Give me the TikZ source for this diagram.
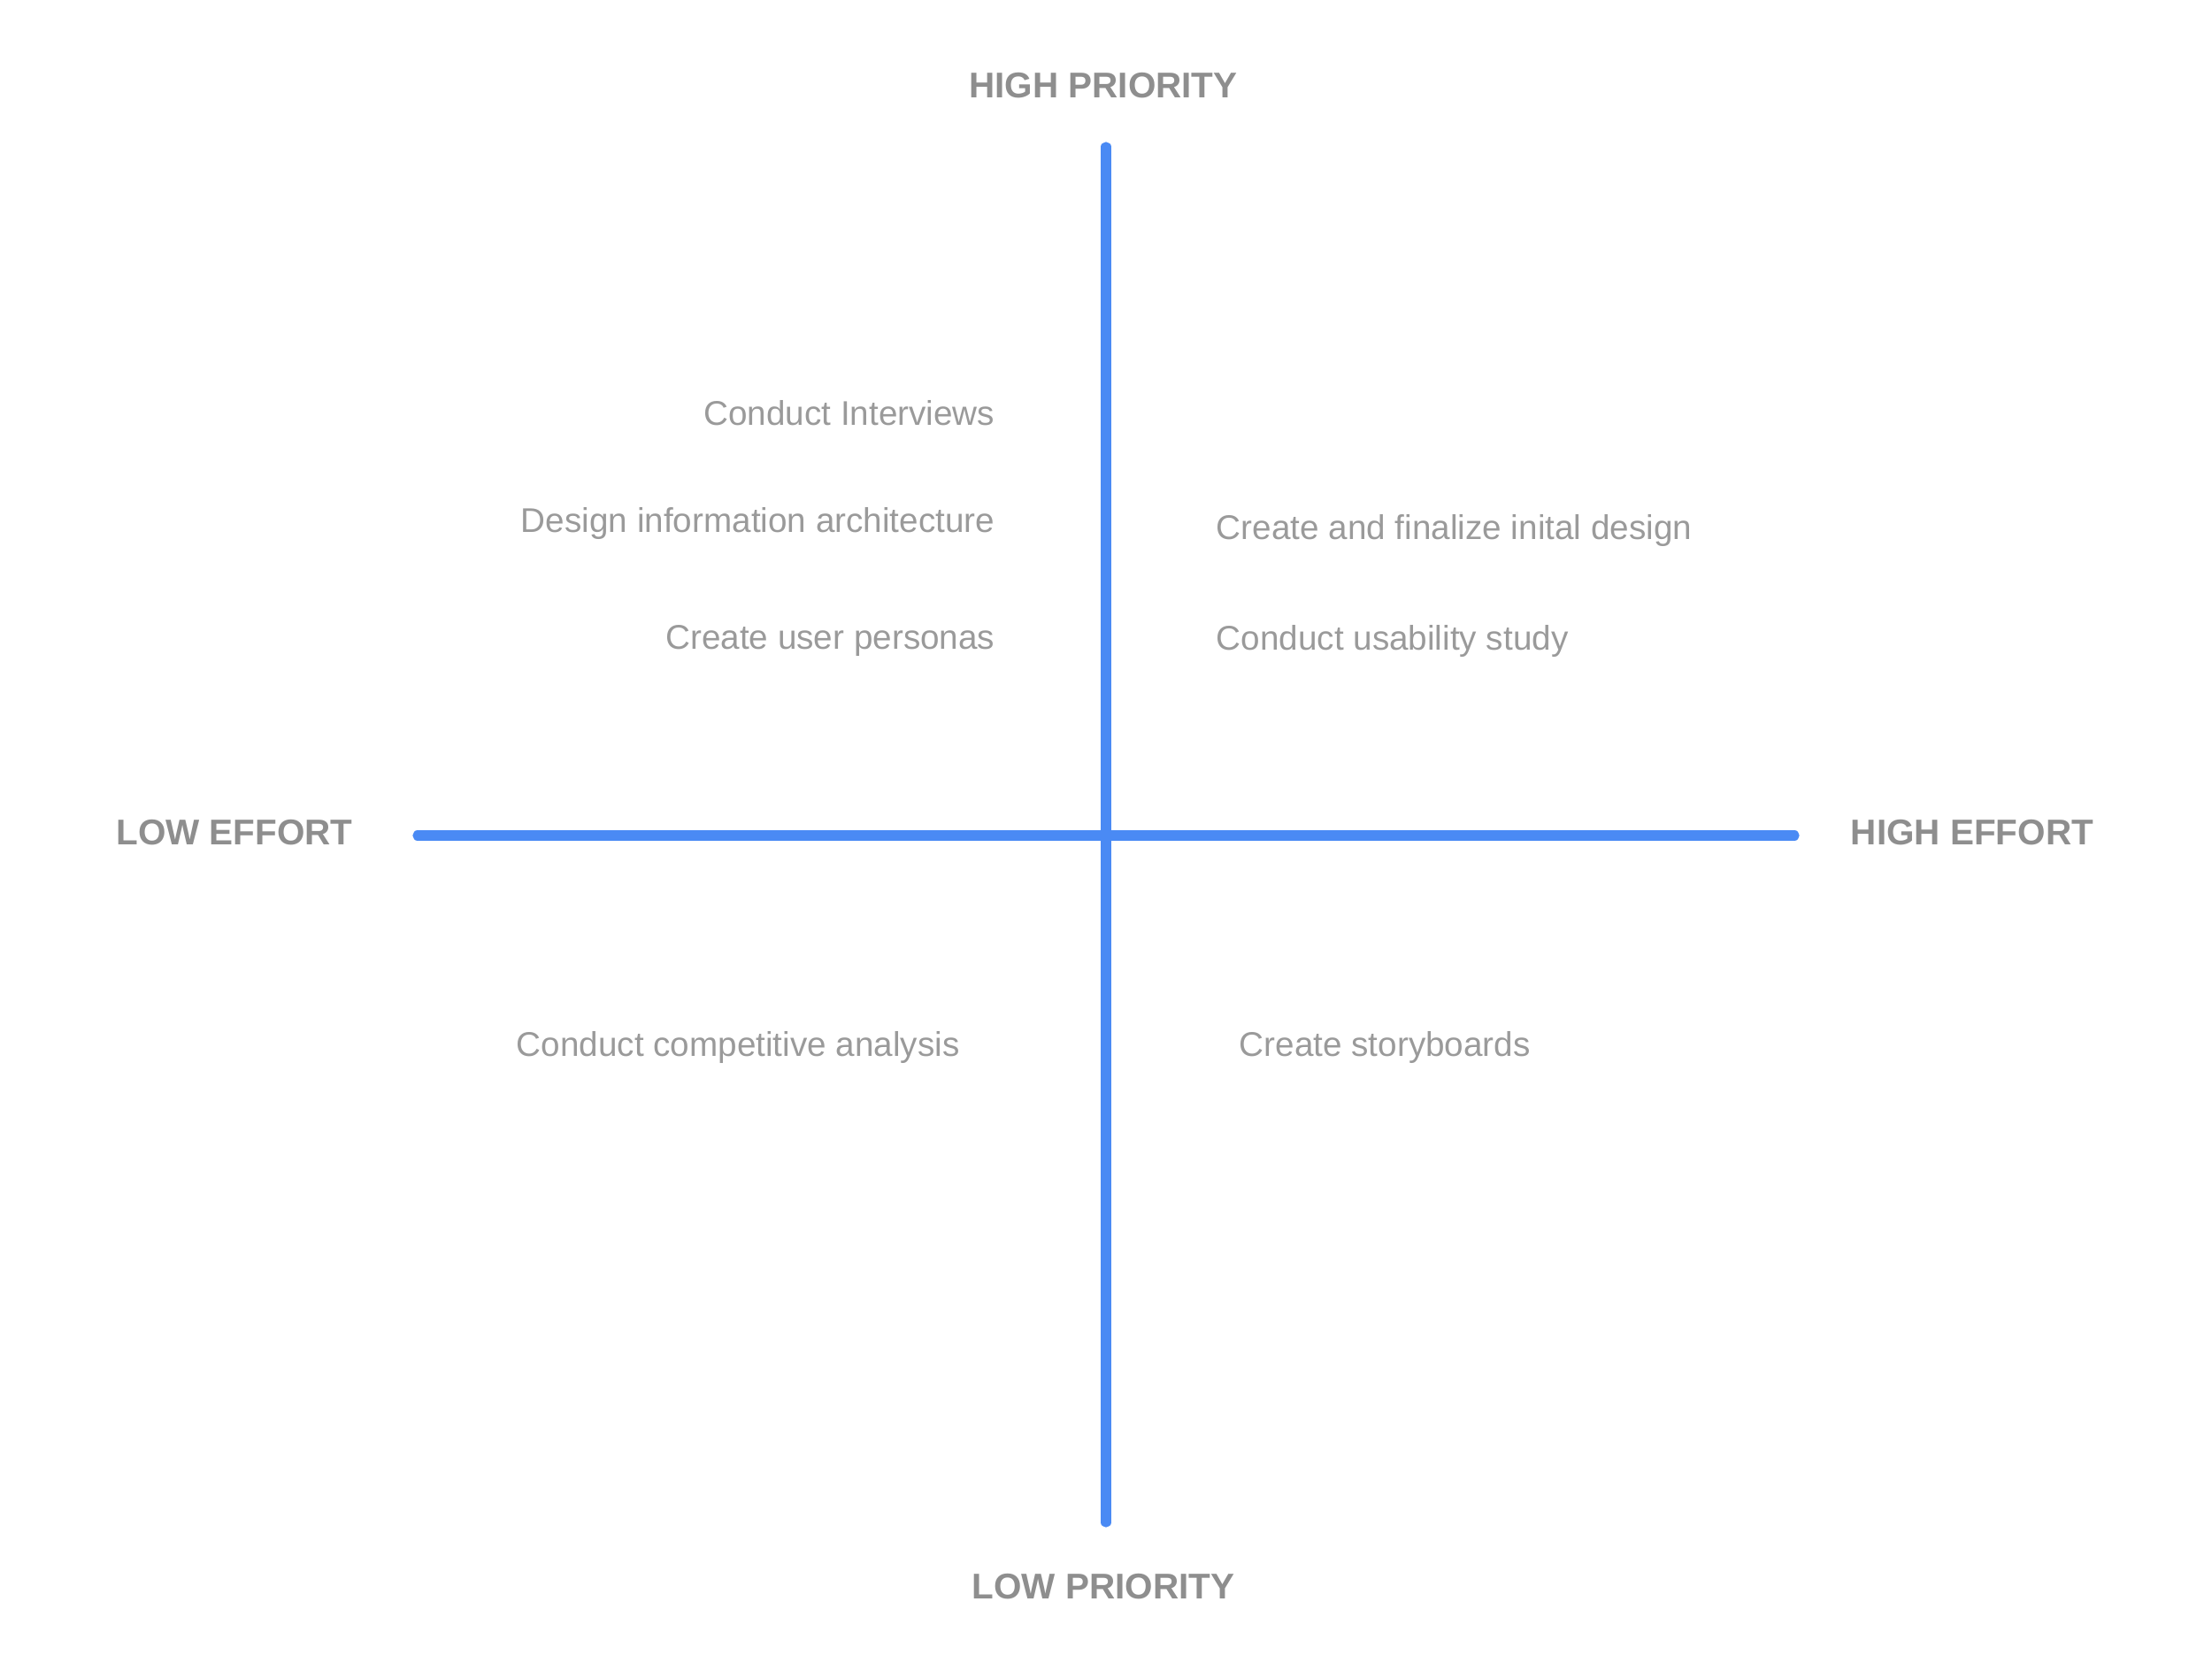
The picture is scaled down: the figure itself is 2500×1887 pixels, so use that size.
\documentclass[tikz,border=0pt]{standalone}
\usepackage{fontspec}
\setmainfont{Liberation Sans}
\definecolor{axblue}{HTML}{4A8AF4}
\definecolor{txt}{HTML}{9A9A9A}
\definecolor{lab}{HTML}{8E8E8E}
\begin{document}
\begin{tikzpicture}[x=0.01cm,y=-0.01cm,
  axis/.style={draw=axblue,line width=3.2pt,line cap=round},
  item/.style={text=txt,font=\fontsize{11}{13}\selectfont,inner sep=0pt},
  head/.style={text=lab,font=\bfseries\fontsize{11.5}{13}\selectfont,inner sep=0pt}]
\useasboundingbox (0,0) rectangle (2500,1887);
\coordinate (vt) at (1250,166);
\coordinate (vb) at (1250,1720);
\coordinate (hl) at (472,944);
\coordinate (hr) at (2028,944);
\draw[axis] (vt) -- (vb);
\draw[axis] (hl) -- (hr);
\node[head] (hp) at (1247,97) {HIGH PRIORITY};
\node[head] (lp) at (1247,1793) {LOW PRIORITY};
\node[head] (le) at (265,941) {LOW EFFORT};
\node[head] (he) at (2229,941) {HIGH EFFORT};
\node[item,anchor=east] (a) at (1125,467) {Conduct Interviews};
\node[item,anchor=east] (b) at (1125,591) {Design information architecture};
\node[item,anchor=east] (c) at (1125,724) {Create user personas};
\node[item,anchor=west] (d) at (583,1183) {Conduct competitive analysis};
\node[item,anchor=west] (e) at (1374,599) {Create and finalize inital design};
\node[item,anchor=west] (f) at (1374,724) {Conduct usability study};
\node[item,anchor=west] (g) at (1400,1183) {Create storyboards};
\end{tikzpicture}
\end{document}
